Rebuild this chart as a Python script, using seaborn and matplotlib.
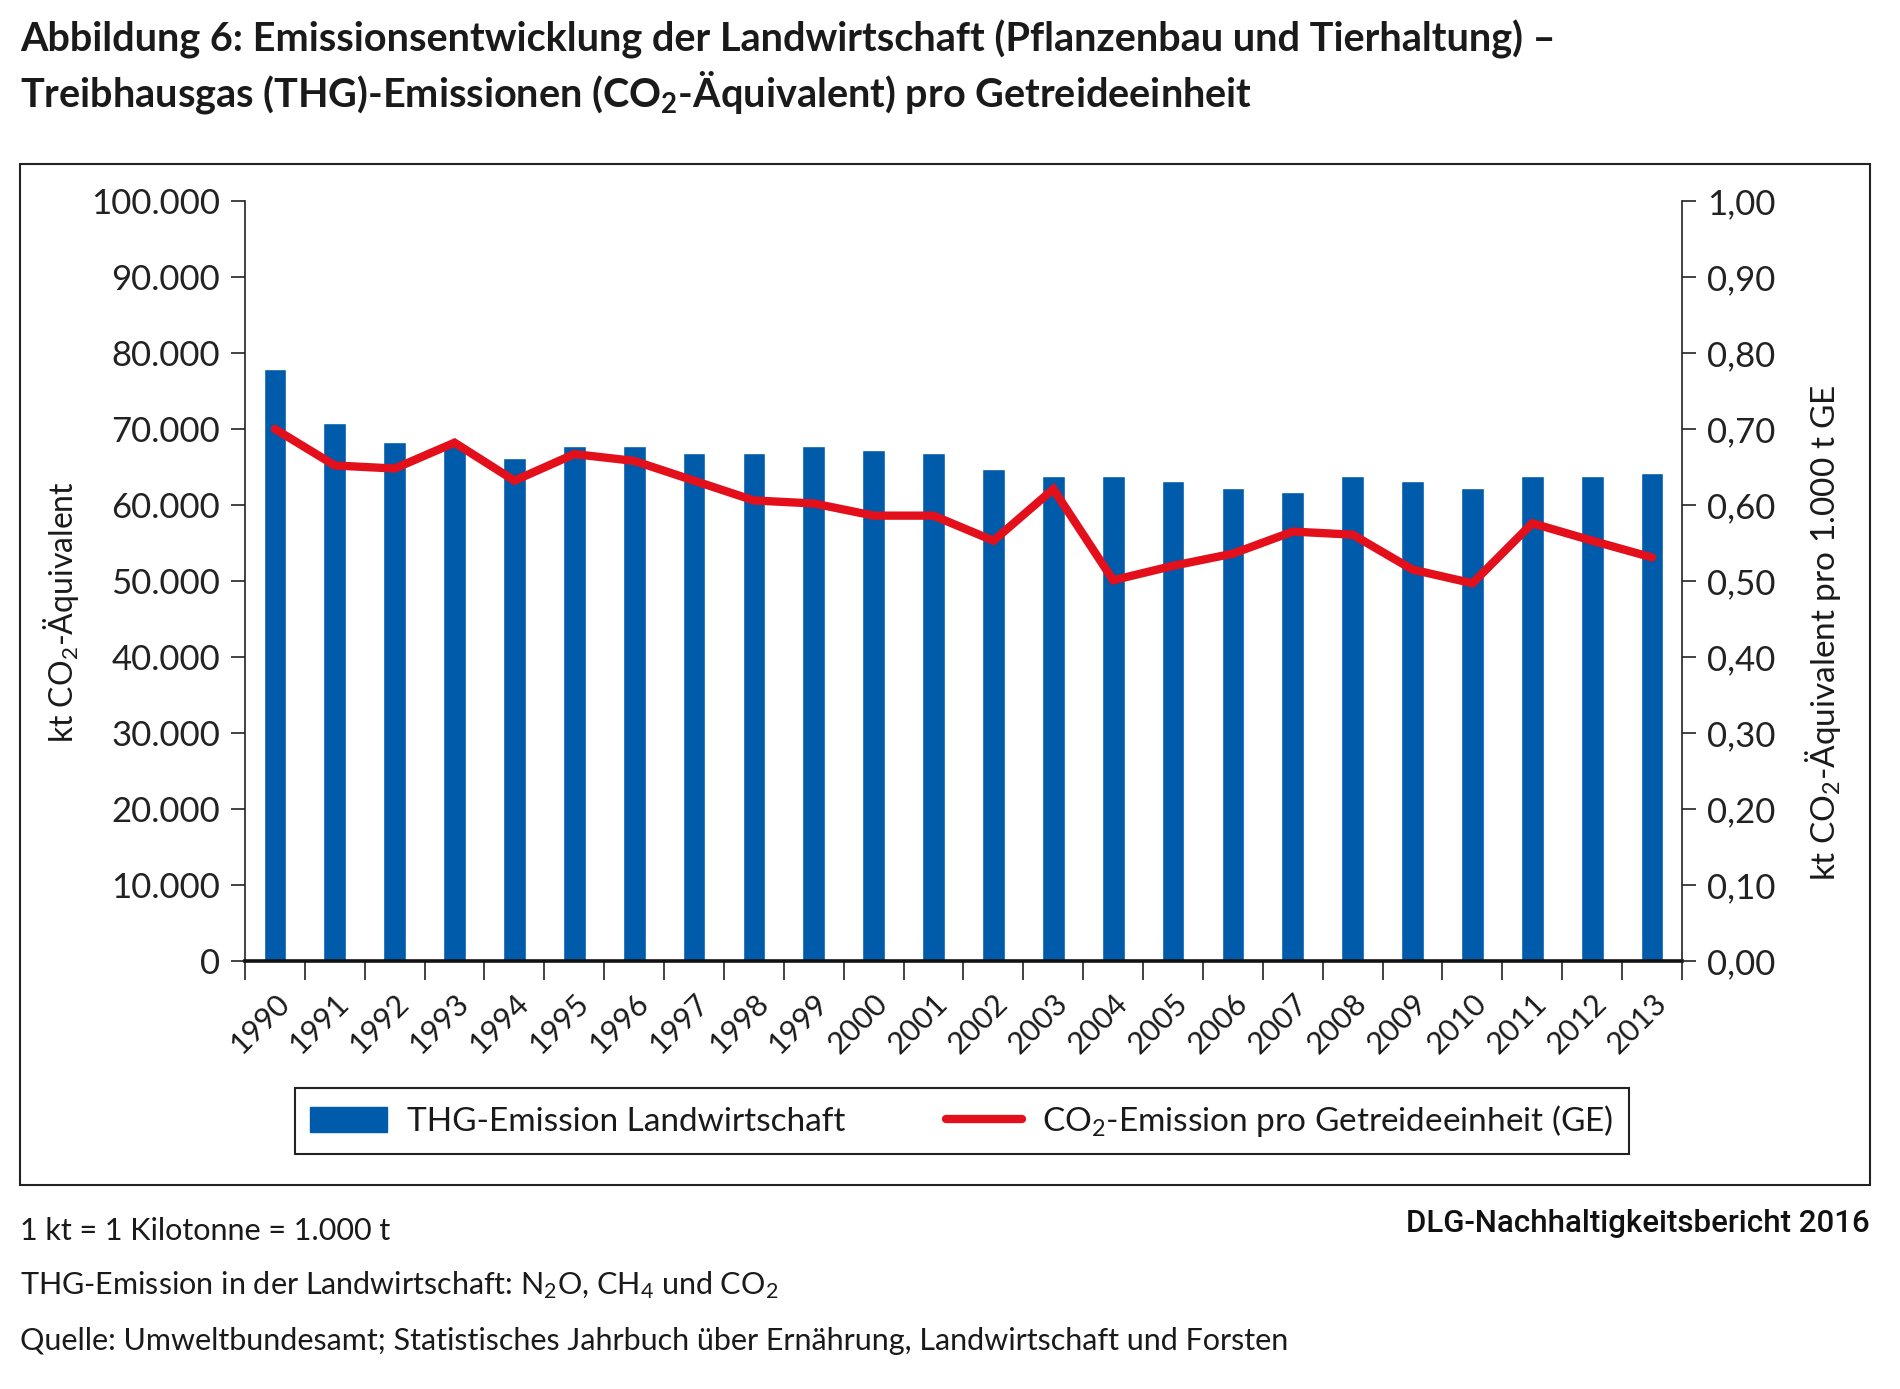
"""
Emissionsentwicklung der Landwirtschaft - THG-Emissionen pro Getreideeinheit
Bars (left axis) + line on twin axis (right)
"""

import numpy as np
import pandas as pd
import matplotlib
matplotlib.use('Agg')
import matplotlib.pyplot as plt
from matplotlib.patches import Rectangle
from matplotlib.lines import Line2D
from matplotlib.patches import Patch
from matplotlib.ticker import FuncFormatter
import seaborn as sns

# ── Data ──────────────────────────────────────────────────────────────────────

years = [str(y) for y in range(1990, 2014)]
thg_kt = [77900, 70800, 68300, 68000, 66200, 67800, 67800, 66800, 66800, 67800,
          67300, 66800, 64700, 63800, 63800, 63200, 62200, 61700, 63800, 63200,
          62200, 63800, 63800, 64200]
co2_per_ge = [0.700, 0.652, 0.648, 0.682, 0.632, 0.667, 0.658, 0.632, 0.606, 0.602,
              0.586, 0.586, 0.553, 0.621, 0.501, 0.520, 0.536, 0.565, 0.561, 0.515,
              0.497, 0.576, 0.553, 0.531]

left_ticks = list(range(0, 100001, 10000))
right_ticks = [i / 10 for i in range(11)]

BLUE = '#005baa'
RED = '#e3101b'
FONT = 'Lato'

# ── Style ─────────────────────────────────────────────────────────────────────

sns.set_style('white')
plt.rcParams['font.family'] = [FONT, 'DejaVu Sans']
plt.rcParams['mathtext.fontset'] = 'custom'
plt.rcParams['mathtext.rm'] = FONT
plt.rcParams['mathtext.it'] = FONT
plt.rcParams['mathtext.bf'] = f'{FONT}:bold'

df = pd.DataFrame({'Jahr': years, 'THG': thg_kt, 'GE': co2_per_ge})
df['pos'] = np.arange(len(df))

W, H = 1900, 1389
fig = plt.figure(figsize=(W / 100, H / 100), dpi=100)
ax = fig.add_axes([245 / W, 1 - 961 / H, (1682 - 245) / W, (961 - 201) / H])

# ── Bars ──────────────────────────────────────────────────────────────────────

sns.barplot(data=df, x='Jahr', y='THG', color=BLUE, width=0.38, saturation=1,
            ax=ax, zorder=2)
ax.set_xlim(-0.5, len(years) - 0.5)
ax.set_ylim(0, 100000)
ax.set_yticks(left_ticks)
ax.yaxis.set_major_formatter(FuncFormatter(lambda v, _: f'{int(v):,}'.replace(',', '.')))
ax.set_xlabel('')
ax.set_ylabel('kt CO$_2$-Äquivalent', fontsize=23, color='#1a1a1a')
ax.yaxis.set_label_coords(-0.114, 0.459)

# category boundaries as x ticks, labels via minor ticks at centres
ax.set_xticks(np.arange(-0.5, len(years), 1))
ax.set_xticklabels([])
ax.set_xticks(np.arange(len(years)), minor=True)
ax.set_xticklabels(years, minor=True, rotation=45, ha='right',
                   rotation_mode='anchor', fontsize=22, color='#1a1a1a')
ax.tick_params(axis='x', which='major', direction='out', length=14, width=1.2,
               color='#222222', bottom=True)
ax.tick_params(axis='x', which='minor', length=0, pad=20)
ax.tick_params(axis='y', direction='out', length=10, width=1.2, color='#222222',
               left=True, labelsize=25, labelcolor='#222222', pad=8)

for s in ['top', 'right']:
    ax.spines[s].set_visible(False)
ax.spines['left'].set_color('#222222')
ax.spines['left'].set_linewidth(1.2)
ax.spines['bottom'].set_color('#111111')
ax.spines['bottom'].set_linewidth(2.6)

# ── Line on twin axis ────────────────────────────────────────────────────────

ax2 = ax.twinx()
sns.lineplot(data=df, x='pos', y='GE', color=RED, linewidth=6, ax=ax2,
             zorder=3, solid_joinstyle='miter')
ax2.set_ylim(0, 1.0)
ax2.set_yticks(right_ticks)
ax2.yaxis.set_major_formatter(FuncFormatter(lambda v, _: f'{v:.2f}'.replace('.', ',')))
ax2.set_xlim(-0.5, len(years) - 0.5)
ax2.set_xlabel('')
ax2.set_ylabel('kt CO$_2$-Äquivalent pro 1.000 t GE', fontsize=24, color='#1a1a1a')
ax2.yaxis.set_label_coords(1.084, 0.432)
ax2.tick_params(axis='y', direction='out', length=10, width=1.2, color='#222222',
                right=True, labelsize=25, labelcolor='#222222', pad=8)
for s in ['top', 'left', 'bottom']:
    ax2.spines[s].set_visible(False)
ax2.spines['right'].set_color('#222222')
ax2.spines['right'].set_linewidth(1.2)
ax2.grid(False)
ax.grid(False)

# ── Legend ───────────────────────────────────────────────────────────────────

handles = [Patch(facecolor=BLUE, edgecolor=BLUE),
           Line2D([0], [0], color=RED, linewidth=6)]
labels = ['THG-Emission Landwirtschaft', 'CO$_2$-Emission pro Getreideeinheit (GE)']
leg = fig.legend(handles, labels, ncol=2, loc='center',
                 bbox_to_anchor=(962 / W, 1 - 1121 / H), frameon=True,
                 fancybox=False, edgecolor='#222222', framealpha=1,
                 fontsize=24, handlelength=2.3, handleheight=0.8,
                 columnspacing=3.0, borderpad=0.45, handletextpad=0.6,
                 labelcolor='#1a1a1a')
leg.get_frame().set_linewidth(1.5)

# ── Outer frame, title and footer ────────────────────────────────────────────

fig.patches.append(Rectangle((20 / W, 1 - 1185 / H), 1850 / W, (1185 - 164) / H,
                             transform=fig.transFigure, fill=False,
                             edgecolor='#222222', linewidth=1.5))

title_kw = dict(fontsize=28.5, fontweight='bold', color='#1a1a1a', va='center', ha='left')
fig.text(20 / W, 1 - 39 / H,
         'Abbildung 6: Emissionsentwicklung der Landwirtschaft (Pflanzenbau und Tierhaltung) –',
         **title_kw)
fig.text(20 / W, 1 - 93 / H,
         'Treibhausgas (THG)-Emissionen (CO$_\\mathbf{2}$-Äquivalent) pro Getreideeinheit',
         **title_kw)

foot_kw = dict(fontsize=22, color='#1a1a1a', va='center', ha='left')
fig.text(20 / W, 1 - 1231 / H, '1 kt = 1 Kilotonne = 1.000 t', **foot_kw)
fig.text(20 / W, 1 - 1285 / H,
         'THG-Emission in der Landwirtschaft: N$_2$O, CH$_4$ und CO$_2$', **foot_kw)
fig.text(20 / W, 1 - 1341 / H,
         'Quelle: Umweltbundesamt; Statistisches Jahrbuch über Ernährung, '
         'Landwirtschaft und Forsten', **foot_kw)
fig.text(1870 / W, 1 - 1224 / H, 'DLG-Nachhaltigkeitsbericht 2016', fontsize=22.5,
         fontweight='medium', family=['Roboto', 'DejaVu Sans'], color='#111111',
         va='center', ha='right')

fig.savefig('out.png', dpi=100, facecolor='white')
plt.close(fig)
